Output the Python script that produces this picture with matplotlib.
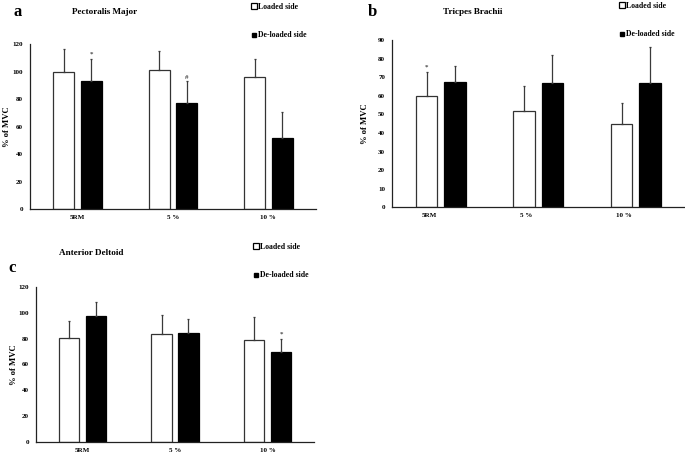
import matplotlib.pyplot as plt
import numpy as np
from matplotlib.lines import Line2D

plt.rcParams["font.family"] = ["Liberation Serif", "DejaVu Serif"]
plt.rcParams["font.weight"] = "bold"

categories = ["5RM", "5 %", "10 %"]

# panel a - Pectoralis Major
pec_loaded = [100, 101.5, 96.5]
pec_loaded_sd = [16.5, 13.5, 12.5]
pec_deloaded = [93, 77, 51.5]
pec_deloaded_sd = [16.5, 16, 19]

# panel b - Triceps Brachii
tri_loaded = [60, 52, 45]
tri_loaded_sd = [13, 13, 11]
tri_deloaded = [67.5, 67, 67]
tri_deloaded_sd = [8.5, 15, 19]

# panel c - Anterior Deltoid
del_loaded = [80.5, 83.5, 79]
del_loaded_sd = [13, 14.5, 17.5]
del_deloaded = [97.5, 84.5, 69.5]
del_deloaded_sd = [11, 10.5, 10.5]

panels = [
    dict(letter="a", title="Pectoralis Major", ymax=120, step=20,
         loaded=pec_loaded, loaded_sd=pec_loaded_sd,
         deloaded=pec_deloaded, deloaded_sd=pec_deloaded_sd,
         marks=[(0, "deloaded", "*"), (1, "deloaded", "#")],
         rect=[30 / 685, 1 - 209 / 454, 286 / 685, 164.7 / 454],
         letter_xy=(14, 16), title_xy=(105, 14), legend_xy=(251, 3), ylab_x=7,
         lab_shift=0.0),
    dict(letter="b", title="Tricpes Brachii", ymax=90, step=10,
         loaded=tri_loaded, loaded_sd=tri_loaded_sd,
         deloaded=tri_deloaded, deloaded_sd=tri_deloaded_sd,
         marks=[(0, "loaded", "*")],
         rect=[392 / 685, 1 - 207.3 / 454, 292.5 / 685, 167.3 / 454],
         letter_xy=(368, 16), title_xy=(473, 14), legend_xy=(619, 2), ylab_x=365,
         lab_shift=-0.12),
    dict(letter="c", title="Anterior Deltoid", ymax=120, step=20,
         loaded=del_loaded, loaded_sd=del_loaded_sd,
         deloaded=del_deloaded, deloaded_sd=del_deloaded_sd,
         marks=[(2, "deloaded", "*")],
         rect=[36 / 685, 1 - 442.3 / 454, 278 / 685, 155.6 / 454],
         letter_xy=(8, 272), title_xy=(91, 255), legend_xy=(253, 243), ylab_x=14,
         lab_shift=0.0),
]

W, H = 685, 454
fig = plt.figure(figsize=(W / 100, H / 100), dpi=100)

width = 0.22
off = 0.145
x = np.arange(len(categories))
err_kw = dict(ecolor="#3a3a3a", elinewidth=0.9, capsize=1.0, capthick=0.9)

for p in panels:
    ax = fig.add_axes(p["rect"])
    n = len(categories)
    zeros = [0] * n
    ax.bar(x - off, p["loaded"], width, color="white", edgecolor="#333333",
           linewidth=0.9, yerr=[zeros, p["loaded_sd"]], error_kw=err_kw)
    ax.bar(x + off, p["deloaded"], width, color="black", edgecolor="black",
           linewidth=0.9, yerr=[zeros, p["deloaded_sd"]], error_kw=err_kw)

    for i, side, sym in p["marks"]:
        if side == "loaded":
            xx, top = x[i] - off, p["loaded"][i] + p["loaded_sd"][i]
        else:
            xx, top = x[i] + off, p["deloaded"][i] + p["deloaded_sd"][i]
        ax.text(xx, top + p["ymax"] * 0.01, sym, ha="center", va="bottom",
                fontsize=5, color="#444444")

    ax.set_xlim(-0.5, n - 0.5)
    ax.set_ylim(0, p["ymax"])
    ax.set_yticks(np.arange(0, p["ymax"] + 1, p["step"]))
    ax.set_xticks(x + p["lab_shift"])
    ax.set_xticklabels(categories)
    ax.tick_params(axis="x", length=0, labelsize=5, pad=4)
    ax.tick_params(axis="y", length=0, labelsize=5, pad=5)
    for s in ["top", "right"]:
        ax.spines[s].set_visible(False)
    for s in ["left", "bottom"]:
        ax.spines[s].set_linewidth(0.9)
        ax.spines[s].set_color("#222222")

    lx, ly = p["letter_xy"]
    fig.text(lx / W, 1 - ly / H, p["letter"], fontsize=12, fontweight="bold",
             ha="left", va="baseline")
    tx, ty = p["title_xy"]
    fig.text(tx / W, 1 - ty / H, p["title"], fontsize=6.6, fontweight="bold",
             ha="center", va="baseline")
    fig.text(p["ylab_x"] / W, p["rect"][1] + p["rect"][3] / 2, "% of MVC",
             rotation=90, fontsize=6.2, fontweight="bold", ha="center", va="center")

    gx, gy = p["legend_xy"]
    handles = [
        Line2D([], [], linestyle="none", marker="s", markersize=4.2,
               markerfacecolor="white", markeredgecolor="black", markeredgewidth=0.9),
        Line2D([], [], linestyle="none", marker="s", markersize=3.2,
               markerfacecolor="black", markeredgecolor="black"),
    ]
    fig.legend(handles, ["Loaded side", "De-loaded side"],
               loc="upper left", bbox_to_anchor=(gx / W, 1 - gy / H),
               frameon=False, fontsize=5.6, handlelength=0.7, handleheight=0.6,
               handletextpad=0.15, labelspacing=2.6, borderaxespad=0, borderpad=0)

fig.savefig("out.png", dpi=100)
